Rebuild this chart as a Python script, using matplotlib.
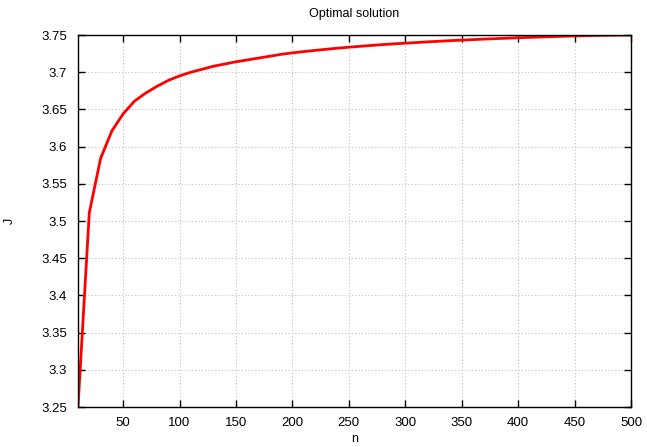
import matplotlib
matplotlib.use("Agg")
import matplotlib.pyplot as plt

plt.rcParams['font.family'] = ['Liberation Sans', 'DejaVu Sans']

n_values = [10, 20, 30, 40, 50, 60, 70, 80, 90, 100,
            110, 120, 130, 140, 150, 160, 170, 180, 190, 200,
            210, 220, 230, 240, 250, 260, 270, 280, 290, 300,
            310, 320, 330, 340, 350, 360, 370, 380, 390, 400,
            410, 420, 430, 440, 450, 460, 470, 480, 490, 500]
J_values = [3.250, 3.511, 3.584, 3.621, 3.644, 3.661, 3.672, 3.681, 3.689, 3.695,
            3.700, 3.704, 3.708, 3.711, 3.714, 3.7165, 3.719, 3.7215, 3.724, 3.726,
            3.7277, 3.7293, 3.7308, 3.7323, 3.7336, 3.7348, 3.736, 3.7371, 3.7381, 3.739,
            3.7399, 3.7408, 3.7416, 3.7424, 3.7431, 3.7438, 3.7445, 3.7451, 3.7457, 3.7463,
            3.7468, 3.7473, 3.7478, 3.7483, 3.7487, 3.7491, 3.7494, 3.7496, 3.7498, 3.750]

x_ticks = [50, 100, 150, 200, 250, 300, 350, 400, 450, 500]
y_ticks = [3.25, 3.3, 3.35, 3.4, 3.45, 3.5, 3.55, 3.6, 3.65, 3.7, 3.75]
y_tick_labels = ['3.25', '3.3', '3.35', '3.4', '3.45', '3.5', '3.55', '3.6', '3.65', '3.7', '3.75']

fig = plt.figure(figsize=(6.47, 4.47), dpi=100)
ax = fig.add_axes([78/647, 1-407/447, (631-78)/647, (407-35)/447])

ax.plot(n_values, J_values, color='#ff0000', linewidth=2.0, clip_on=True)

ax.set_xlim(10, 500)
ax.set_ylim(3.25, 3.75)
ax.set_xticks(x_ticks)
ax.set_yticks(y_ticks)
ax.set_yticklabels(y_tick_labels)

ax.grid(True, color='#c0c0c0', linestyle=(0, (1, 2)), linewidth=0.8)
ax.tick_params(axis='both', direction='in', length=5, width=1.0,
               top=True, right=True, labelsize=9.5, colors='black')
ax.tick_params(axis='x', pad=7)
ax.tick_params(axis='y', pad=8)
for s in ax.spines.values():
    s.set_linewidth(1.0)
    s.set_color('black')

ax.set_title('Optimal solution', fontsize=9, pad=13)
ax.set_xlabel('n', fontsize=9, labelpad=3)
ax.set_ylabel('J', fontsize=9, labelpad=18)

fig.savefig('out.png', dpi=100)
